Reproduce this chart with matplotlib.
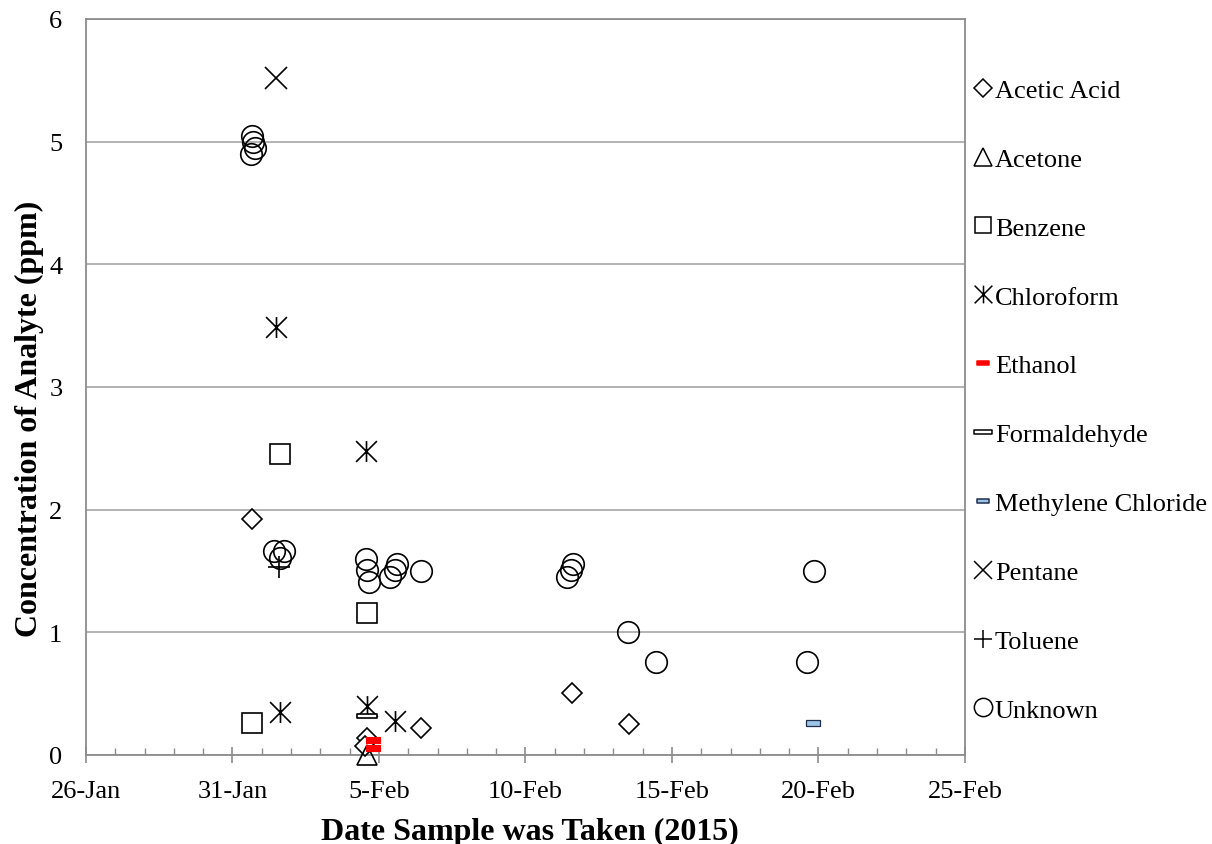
import numpy as np
import pandas as pd
import matplotlib
matplotlib.use("Agg")
import matplotlib.pyplot as plt
import matplotlib.dates as mdates
from matplotlib.path import Path
from matplotlib.lines import Line2D

plt.rcParams['font.family'] = ['Liberation Serif', 'DejaVu Serif']

# sample dates/times and concentrations (ppm)
acetic_t = ['2015-01-31 16:00', '2015-02-04 14:10', '2015-02-04 12:30', '2015-02-06 10:20',
            '2015-02-11 14:10', '2015-02-13 12:45']
acetic_c = [1.92, 0.14, 0.07, 0.22, 0.505, 0.255]

acetone_t = ['2015-02-04 14:10']
acetone_c = [0.0]

benzene_t = ['2015-02-01 14:50', '2015-01-31 16:00', '2015-02-04 14:10']
benzene_c = [2.45, 0.26, 1.155]

chloro_t = ['2015-02-01 11:40', '2015-02-01 14:50', '2015-02-04 13:20', '2015-02-04 14:10',
            '2015-02-05 13:10']
chloro_c = [3.49, 0.35, 2.48, 0.40, 0.28]

ethanol_t = ['2015-02-04 19:05', '2015-02-04 19:05']
ethanol_c = [0.12, 0.06]

formal_t = ['2015-02-04 14:10']
formal_c = [0.32]

methylene_t = ['2015-02-19 19:25']
methylene_c = [0.258]

pentane_t = ['2015-02-01 11:40']
pentane_c = [5.52]

toluene_t = ['2015-02-01 14:10']
toluene_c = [1.53]

unknown_t = ['2015-01-31 15:45', '2015-01-31 17:00', '2015-01-31 18:30', '2015-01-31 14:55',
             '2015-02-01 10:05', '2015-02-01 18:15', '2015-02-01 14:50',
             '2015-02-04 13:20', '2015-02-04 14:10', '2015-02-04 15:50',
             '2015-02-05 09:00', '2015-02-05 13:10', '2015-02-05 14:40', '2015-02-06 10:20',
             '2015-02-11 10:05', '2015-02-11 13:10', '2015-02-11 14:50',
             '2015-02-13 12:00', '2015-02-14 10:50', '2015-02-19 14:25', '2015-02-19 20:25']
unknown_c = [5.05, 5.0, 4.95, 4.9,
             1.66, 1.66, 1.61,
             1.60, 1.51, 1.41,
             1.45, 1.51, 1.56, 1.50,
             1.455, 1.51, 1.555,
             1.0, 0.755, 0.755, 1.50]

# custom marker shapes
star = Path([(-1, -1), (1, 1), (-1, 1), (1, -1), (0, -1), (0, 1)],
            [Path.MOVETO, Path.LINETO, Path.MOVETO, Path.LINETO, Path.MOVETO, Path.LINETO])
bar_wide = Path([(-1, -0.2), (1, -0.2), (1, 0.2), (-1, 0.2), (-1, -0.2)],
                [Path.MOVETO, Path.LINETO, Path.LINETO, Path.LINETO, Path.CLOSEPOLY])
bar_small = Path([(-1, -0.38), (1, -0.38), (1, 0.38), (-1, 0.38), (-1, -0.38)],
                 [Path.MOVETO, Path.LINETO, Path.LINETO, Path.LINETO, Path.CLOSEPOLY])

series = [
    ('Acetic Acid', acetic_t, acetic_c, dict(marker='D', ms=10.5, mfc='white', mec='black', mew=1.2)),
    ('Acetone', acetone_t, acetone_c, dict(marker='^', ms=15, mfc='none', mec='black', mew=1.2)),
    ('Benzene', benzene_t, benzene_c, dict(marker='s', ms=14, mfc='none', mec='black', mew=1.2)),
    ('Chloroform', chloro_t, chloro_c, dict(marker=star, ms=15, mfc='none', mec='black', mew=1.2)),
    ('Ethanol', ethanol_t, ethanol_c, dict(marker=bar_small, ms=9.5, mfc='red', mec='red', mew=0.8)),
    ('Formaldehyde', formal_t, formal_c, dict(marker=bar_wide, ms=15, mfc='white', mec='black', mew=1.2)),
    ('Methylene Chloride', methylene_t, methylene_c, dict(marker=bar_small, ms=9.5, mfc='#9dc3e6', mec='#1f2f4f', mew=0.9)),
    ('Pentane', pentane_t, pentane_c, dict(marker='x', ms=16, mfc='none', mec='black', mew=1.2)),
    ('Toluene', toluene_t, toluene_c, dict(marker='+', ms=16, mfc='none', mec='black', mew=1.2)),
    ('Unknown', unknown_t, unknown_c, dict(marker='o', ms=15.5, mfc='none', mec='black', mew=1.2)),
]

fig = plt.figure(figsize=(12.12, 8.45), dpi=100)
ax = fig.add_axes([86 / 1212, 1 - 756 / 845, (965 - 86) / 1212, (756 - 20) / 845])

handles = []
for name, t, c, st in series:
    ax.plot(pd.to_datetime(t), c, linestyle='none', clip_on=False, zorder=3, **st)
    lst = dict(st)
    lst['ms'] = st['ms'] * 0.85
    lst['mew'] = 1.1
    handles.append(Line2D([], [], linestyle='none', label=name, **lst))

ax.set_xlim(pd.Timestamp('2015-01-26'), pd.Timestamp('2015-02-25'))
ax.set_ylim(0, 6)
ax.xaxis.set_major_locator(matplotlib.ticker.FixedLocator(
    mdates.date2num(pd.date_range('2015-01-26', '2015-02-25', freq='5D'))))
ax.xaxis.set_minor_locator(mdates.DayLocator())
ax.xaxis.set_major_formatter(mdates.DateFormatter('%-d-%b'))
ax.set_yticks(range(0, 7))

ax.grid(axis='y', color='#a6a6a6', linewidth=1.2)
ax.set_axisbelow(True)
for s in ax.spines.values():
    s.set_color('#8c8c8c')
    s.set_linewidth(1.3)

ax.tick_params(axis='x', which='major', direction='inout', length=12, width=1.2, color='#8c8c8c',
               labelsize=19, pad=12)
ax.tick_params(axis='x', which='minor', direction='in', length=5, width=1.0, color='#8c8c8c')
ax.tick_params(axis='y', length=0, labelsize=19, pad=17)

# axis titles placed like the Excel ones
fig.text(530 / 1212, 5 / 845, 'Date Sample was Taken (2015)', fontsize=23, fontweight='bold',
         ha='center', va='baseline')
fig.text(29 / 1212, 1 - 419 / 845, 'Concentration of Analyte (ppm)', fontsize=23, fontweight='bold',
         rotation=90, ha='center', va='center')

ax.legend(handles=handles, loc='upper left', bbox_to_anchor=(1.001, 0.9335), frameon=False,
          fontsize=19, labelspacing=1.72, handlelength=0.5, handletextpad=0.2,
          borderaxespad=0.0, numpoints=1)

fig.savefig('out.png', dpi=100)
